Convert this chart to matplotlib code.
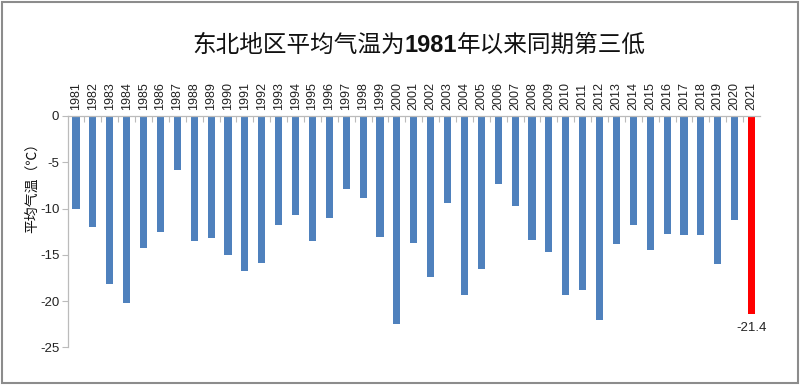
import matplotlib
matplotlib.use("Agg")
import matplotlib.pyplot as plt
from matplotlib.patches import Rectangle

plt.rcParams['font.family'] = ['Noto Sans CJK SC', 'DejaVu Sans']

years = [str(y) for y in range(1981, 2022)]
temps = [-10.0, -12.0, -18.2, -20.2, -14.3, -12.5, -5.8, -13.5, -13.2, -15.0,
         -16.8, -15.9, -11.8, -10.7, -13.5, -11.0, -7.9, -8.9, -13.1, -22.5,
         -13.7, -17.4, -9.4, -19.4, -16.5, -7.3, -9.7, -13.4, -14.7, -19.3,
         -18.8, -22.1, -13.8, -11.8, -14.5, -12.8, -12.9, -12.9, -16.0, -11.2,
         -21.4]
yticks = [0, -5, -10, -15, -20, -25]
title_parts = ["东北地区平均气温为", "1981", "年以来同期第三低"]
ylabel = "平均气温（℃）"

blue = "#4F81BD"
red = "#FF0000"
colors = [blue] * (len(years) - 1) + [red]

fig = plt.figure(figsize=(8, 3.85), dpi=100)
ax = fig.add_axes([0.0845, 1 - 347.3 / 385, 0.950 - 0.0845, (347.3 - 116) / 385])

x = list(range(len(years)))
ax.bar(x, temps, width=0.42, color=colors)
ax.set_xlim(-0.5, len(years) - 0.5)
ax.set_ylim(-25, 0)

# y axis
ax.set_yticks(yticks)
ax.set_yticklabels([str(v) for v in yticks], fontsize=9.5, family='Liberation Sans', color='#222222')
ax.tick_params(axis='y', direction='out', length=4, color='#BBBBBB', width=0.8, pad=2)

# x axis on top
ax.xaxis.tick_top()
ax.set_xticks(x)
ax.set_xticklabels(years, rotation=90, fontsize=9, family='Liberation Sans', color='#222222')
ax.tick_params(axis='x', which='major', length=0, pad=4)
ax.set_xticks([i - 0.5 for i in range(1, len(years))], minor=True)
ax.tick_params(axis='x', which='minor', direction='in', length=4, color='#BBBBBB', width=0.8, top=True, bottom=False)

for s in ['bottom', 'right']:
    ax.spines[s].set_visible(False)
for s in ['top', 'left']:
    ax.spines[s].set_color('#BBBBBB')
    ax.spines[s].set_linewidth(0.9)

# data label for last bar
ax.annotate(f"{temps[-1]:.1f}", (x[-1], temps[-1]), xytext=(0, -6), textcoords='offset points',
            ha='center', va='top', fontsize=9.5, family='Liberation Sans', color='#222222')

# y label
fig.text(32 / 800, 1 - 184 / 385, ylabel, rotation=90, ha='center', va='center', fontsize=10, color='#111111')

# title with bold year
t1 = fig.text(192 / 800, 1 - 45 / 385, title_parts[0], ha='left', va='center', fontsize=17, color='#111111')
t2 = fig.text(0, 0, title_parts[1], fontsize=17, fontweight='bold', color='#111111', ha='left', va='center',
              family='Liberation Sans')
t3 = fig.text(0, 0, title_parts[2], fontsize=17, color='#111111', ha='left', va='center')
fig.canvas.draw()
r = fig.canvas.get_renderer()
bb1 = t1.get_window_extent(r)
t2.set_position((bb1.x1 / fig.bbox.width, 1 - 45 / 385))
fig.canvas.draw()
bb2 = t2.get_window_extent(r)
t3.set_position((bb2.x1 / fig.bbox.width, 1 - 45 / 385))

# outer border
fig.patches.append(Rectangle((0.002, 0.004), 0.995, 0.992, transform=fig.transFigure, fill=False,
                             edgecolor='#8C8C8C', linewidth=1.5))

fig.savefig("out.png", dpi=100)
